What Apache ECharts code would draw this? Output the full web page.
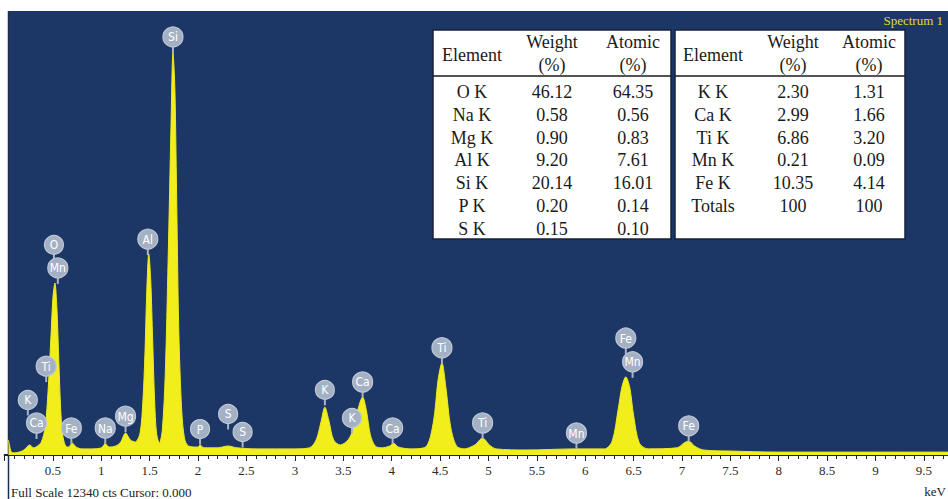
<!DOCTYPE html>
<html>
<head>
<meta charset="utf-8">
<script src="https://cdn.jsdelivr.net/npm/echarts@6/dist/echarts.min.js"></script>
<style>
  html, body { margin: 0; padding: 0; background: #fff; }
  #spectrum { width: 948px; height: 499px; }
</style>
</head>
<body>
<div id="spectrum"></div>
<script>
// EDS spectrum (keV / counts)
var energy = [0.04, 0.05, 0.07, 0.10, 0.15, 0.20, 0.26, 0.30, 0.34, 0.38, 0.42, 0.45, 0.48, 0.50, 0.52, 0.54, 0.56, 0.58, 0.60, 0.63,
  0.66, 0.70, 0.74, 0.80, 0.90, 1.00, 1.04, 1.08, 1.15, 1.20, 1.25, 1.30, 1.35, 1.40, 1.43, 1.45, 1.47, 1.49, 1.51, 1.53,
  1.55, 1.57, 1.60, 1.63, 1.66, 1.69, 1.72, 1.74, 1.76, 1.78, 1.80, 1.83, 1.86, 1.90, 2.00, 2.02, 2.06, 2.20, 2.31, 2.40,
  2.60, 2.80, 3.00, 3.15, 3.22, 3.27, 3.31, 3.35, 3.40, 3.47, 3.55, 3.60, 3.65, 3.70, 3.74, 3.78, 3.83, 3.90, 3.98, 4.02,
  4.07, 4.20, 4.35, 4.43, 4.48, 4.52, 4.56, 4.61, 4.67, 4.75, 4.86, 4.94, 5.01, 5.08, 5.40, 5.90, 6.20, 6.28, 6.34, 6.38,
  6.42, 6.46, 6.50, 6.56, 6.65, 6.95, 7.02, 7.07, 7.13, 7.22, 7.50, 8.00, 9.00, 9.75]
var counts = [420, 280, 80, 60, 80, 140, 280, 200, 250, 360, 780, 1810, 3340, 4390, 4780, 4110, 2640, 1250, 560, 250,
  220, 330, 220, 170, 170, 200, 310, 220, 250, 360, 610, 420, 360, 610, 1530, 2780, 4590, 5590, 4870, 3200,
  1530, 610, 330, 700, 2220, 5420, 9170, 11200, 10150, 6810, 3480, 1250, 450, 250, 220, 280, 200, 200, 250, 200,
  170, 170, 170, 200, 420, 920, 1330, 970, 420, 280, 420, 700, 1250, 1610, 1220, 560, 250, 200, 250, 330,
  220, 170, 220, 890, 2090, 2560, 1890, 780, 250, 170, 280, 470, 280, 170, 140, 170, 170, 390, 1250, 1890,
  2170, 1890, 1110, 330, 170, 200, 330, 390, 250, 140, 110, 80, 80, 80]

// element badges above the peaks
var badgeNames = ['K', 'Ca', 'Ti', 'O', 'Mn', 'Fe', 'Na', 'Mg', 'Al', 'Si', 'P', 'S', 'S', 'K', 'K', 'Ca', 'Ca', 'Ti', 'Ti', 'Mn', 'Fe', 'Mn', 'Fe']
var badgeEnergy = [0.24, 0.33, 0.43, 0.51, 0.55, 0.69, 1.04, 1.25, 1.48, 1.74, 2.02, 2.31, 2.46, 3.31, 3.59, 3.70, 4.01, 4.52, 4.94, 5.91, 6.42, 6.49, 7.07]
var badgeHeight = [1530, 890, 2470, 5840, 5200, 750, 750, 1080, 6000, 11620, 720, 1140, 640, 1810, 1030, 2030, 750, 2980, 890, 610, 3250, 2590, 810]

// quantification table
var leftElem = ['O K', 'Na K', 'Mg K', 'Al K', 'Si K', 'P K', 'S K']
var leftWeight = ['46.12', '0.58', '0.90', '9.20', '20.14', '0.20', '0.15']
var leftAtomic = ['64.35', '0.56', '0.83', '7.61', '16.01', '0.14', '0.10']
var rightElem = ['K K', 'Ca K', 'Ti K', 'Mn K', 'Fe K', 'Totals']
var rightWeight = ['2.30', '2.99', '6.86', '0.21', '10.35', '100']
var rightAtomic = ['1.31', '1.66', '3.20', '0.09', '4.14', '100']

var fullScale = 12340
var serif = '"Liberation Serif", "Times New Roman", serif'

function tableElements (x0, w, cols, elem, weight, atomic) {
  var els = []
  var top = 30, h = 209
  els.push({ type: 'rect', z: 10, shape: { x: x0, y: top, width: w, height: h },
    style: { fill: '#fff', stroke: '#16223a', lineWidth: 1.5 } })
  els.push({ type: 'line', z: 11, shape: { x1: x0, y1: 76, x2: x0 + w, y2: 76 },
    style: { stroke: '#1b1b1b', lineWidth: 1.6 } })
  var font = '18px ' + serif
  function txt (x, y, s) {
    els.push({ type: 'text', z: 12, x: x, y: y,
      style: { text: s, font: font, fill: '#1a1a1a', align: 'center', verticalAlign: 'middle' } })
  }
  txt(x0 + cols[0], 55, 'Element')
  txt(x0 + cols[1], 42, 'Weight')
  txt(x0 + cols[1], 65, '(%)')
  txt(x0 + cols[2], 42, 'Atomic')
  txt(x0 + cols[2], 65, '(%)')
  for (var i = 0; i < elem.length; i++) {
    var y = 92 + i * 22.8
    txt(x0 + cols[0], y, elem[i])
    txt(x0 + cols[1], y, weight[i])
    txt(x0 + cols[2], y, atomic[i])
  }
  return els
}

function renderBadge (params, api) {
  var p = api.coord([api.value(0), api.value(1)])
  var name = badgeNames[params.dataIndex]
  var r = name.length > 1 ? 10 : 9.5
  return {
    type: 'group',
    children: [
      { type: 'line', shape: { x1: p[0], y1: p[1] + r - 1, x2: p[0], y2: p[1] + r + 6 },
        style: { stroke: '#a8b4c7', lineWidth: 2 } },
      { type: 'circle', shape: { cx: p[0], cy: p[1], r: r },
        style: { fill: '#a4b1c5', stroke: '#bfc8d6', lineWidth: 1.2 } },
      { type: 'text', x: p[0], y: p[1] + 0.5,
        style: { text: name, fill: '#ffffff', align: 'center', verticalAlign: 'middle',
          font: '12px "Liberation Sans Narrow", "DejaVu Sans Condensed", sans-serif' } }
    ]
  }
}

var spectrumData = []
for (var i = 0; i < energy.length; i++) spectrumData.push([energy[i], counts[i]])
var badgeData = []
for (var j = 0; j < badgeNames.length; j++) badgeData.push([badgeEnergy[j], badgeHeight[j]])

var graphics = [
  { type: 'rect', z: 0, shape: { x: 8, y: 11, width: 940, height: 444 }, style: { fill: '#1c3765' } },
  { type: 'line', z: 1, shape: { x1: 8.5, y1: 11, x2: 8.5, y2: 499 }, style: { stroke: '#1c2c4c', lineWidth: 1.5 } },
  { type: 'text', z: 12, x: 943, y: 20,
    style: { text: 'Spectrum 1', font: '13px ' + serif, fill: '#e2dc2c', align: 'right', verticalAlign: 'middle' } },
  { type: 'text', z: 12, x: 11, y: 492,
    style: { text: 'Full Scale ' + fullScale + ' cts Cursor: 0.000', font: '13px ' + serif, fill: '#222', align: 'left', verticalAlign: 'middle' } },
  { type: 'text', z: 12, x: 946, y: 491,
    style: { text: 'keV', font: '13px ' + serif, fill: '#222', align: 'right', verticalAlign: 'middle' } }
]
graphics = graphics.concat(tableElements(433, 238, [39, 119, 200], leftElem, leftWeight, leftAtomic))
graphics = graphics.concat(tableElements(675, 230, [38, 118, 194], rightElem, rightWeight, rightAtomic))

var chart = echarts.init(document.getElementById('spectrum'), null, { renderer: 'svg' })

var option = {
  animation: false,
  grid: { left: 4.6, right: 0, top: 11, bottom: 44, outerBoundsMode: 'none', containLabel: false },
  xAxis: [
    {
      type: 'value', min: 0, max: 9.75, interval: 0.5,
      axisLine: { show: true, lineStyle: { color: '#16223a', width: 2 } },
      axisTick: { show: true, length: 6, lineStyle: { color: '#222', width: 1 } },
      axisLabel: {
        margin: 9, color: '#2a2a2a', fontFamily: serif, fontSize: 13,
        formatter: function (v) {
          var r = Math.round(v * 2)
          if (r === 0 || Math.abs(v * 2 - r) > 1e-6) return ''
          return String(r / 2)
        }
      },
      splitLine: { show: false }
    },
    {
      type: 'value', min: 0, max: 9.75, interval: 0.1, position: 'bottom',
      axisLine: { show: false },
      axisTick: { show: true, length: 4, lineStyle: { color: '#222', width: 1 } },
      axisLabel: { show: false },
      splitLine: { show: false }
    }
  ],
  yAxis: { type: 'value', min: 0, max: fullScale, show: false, splitLine: { show: false } },
  graphic: { elements: graphics },
  series: [
    {
      type: 'line',
      data: spectrumData,
      smooth: 0.3,
      showSymbol: false,
      z: 3,
      lineStyle: { color: '#eeea1e', width: 1 },
      areaStyle: { color: '#f2ee1c', opacity: 1 }
    },
    {
      type: 'custom',
      data: badgeData,
      renderItem: renderBadge,
      z: 5,
      clip: false
    }
  ]
}

chart.setOption(option)
</script>
</body>
</html>
